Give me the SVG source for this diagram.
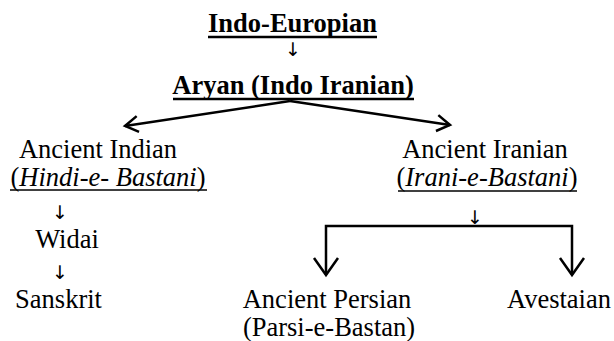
<svg xmlns="http://www.w3.org/2000/svg" width="614" height="341" viewBox="0 0 614 341">
<defs>
<marker id="open" markerUnits="userSpaceOnUse" markerWidth="30" markerHeight="30" refX="0" refY="0" viewBox="-15 -15 30 30" orient="auto" overflow="visible">
<path d="M-13,-8 L0,0 L-13,8" fill="none" stroke="#000" stroke-width="2.5" stroke-linejoin="miter"/>
</marker>
</defs>
<style>
text{font-family:'Liberation Serif','Times New Roman',serif;fill:#000;font-size:26.5px}
.b{font-weight:bold}
.i{font-style:italic}
.arr{font-family:'DejaVu Sans',sans-serif;font-size:19px}
.ul{stroke:#000;stroke-width:1.5}
.ulb{stroke:#000;stroke-width:2.5}
.con{stroke:#000;stroke-width:2.5;fill:none}
</style>
<rect width="614" height="341" fill="#fff"/>
<g id="n-indo-european">
<text class="b" x="292.5" y="32" text-anchor="middle">Indo-Europian</text>
<line class="ulb" x1="208" y1="37" x2="377" y2="37"/>
</g>
<g id="n-aryan">
<text class="b" x="293" y="94" text-anchor="middle">Aryan (Indo Iranian)</text>
<line class="ulb" x1="173" y1="99" x2="414" y2="99"/>
</g>
<g id="n-ancient-indian">
<text x="98" y="158" text-anchor="middle">Ancient Indian</text>
<text x="108" y="186" text-anchor="middle">(<tspan class="i">Hindi-e- Bastani</tspan>)</text>
<line class="ul" x1="10" y1="190" x2="207" y2="190"/>
</g>
<g id="n-widai">
<text x="67" y="248" text-anchor="middle">Widai</text>
</g>
<g id="n-sanskrit">
<text x="58.5" y="308" text-anchor="middle">Sanskrit</text>
</g>
<g id="n-ancient-iranian">
<text x="485" y="158" text-anchor="middle">Ancient Iranian</text>
<text x="487" y="186" text-anchor="middle">(<tspan class="i">Irani-e-Bastani</tspan>)</text>
<line class="ul" x1="398" y1="191" x2="577" y2="191"/>
</g>
<g id="n-ancient-persian">
<text x="327" y="308" text-anchor="middle">Ancient Persian</text>
<text x="329" y="336" text-anchor="middle">(Parsi-e-Bastan)</text>
</g>
<g id="n-avestaian">
<text x="559" y="308" text-anchor="middle">Avestaian</text>
</g>
<g id="connectors">
<text class="arr" x="293" y="56" text-anchor="middle">↓</text>
<line class="con" x1="290" y1="101" x2="125" y2="126" marker-end="url(#open)"/>
<line class="con" x1="290" y1="101" x2="450" y2="125" marker-end="url(#open)"/>
<text class="arr" x="60" y="219" text-anchor="middle">↓</text>
<text class="arr" x="60" y="279" text-anchor="middle">↓</text>
<text class="arr" x="475" y="224" text-anchor="middle">↓</text>
<path class="con" d="M326,275 V226 H572 V275"/>
<path class="con" d="M314,258 L326,275 L338,258"/>
<path class="con" d="M560,258 L572,275 L584,258"/>
</g>
</svg>
